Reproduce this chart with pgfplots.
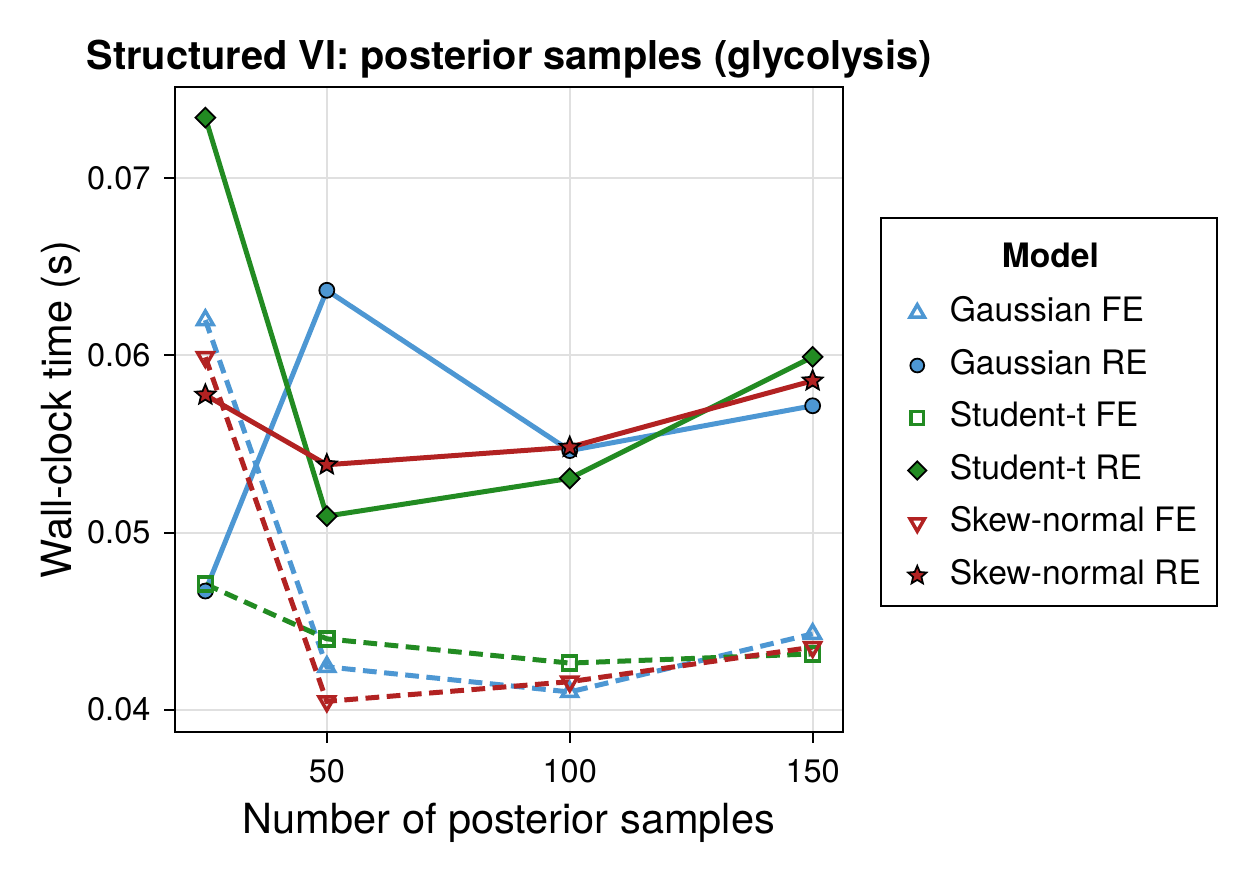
\documentclass[border=0pt]{standalone}
\usepackage{fontspec}
\setmainfont{TeX Gyre Heros}
\usepackage{pgfplots}
\pgfplotsset{compat=1.18}
\definecolor{cblue}{RGB}{77,151,211}
\definecolor{cgreen}{RGB}{34,139,34}
\definecolor{cred}{RGB}{178,34,34}
\pgfdeclareplotmark{fstar}{%
  \pgfpathmoveto{\pgfpointpolar{90}{\pgfplotmarksize}}%
  \pgfpathlineto{\pgfpointpolar{126}{0.45\pgfplotmarksize}}%
  \pgfpathlineto{\pgfpointpolar{162}{\pgfplotmarksize}}%
  \pgfpathlineto{\pgfpointpolar{198}{0.45\pgfplotmarksize}}%
  \pgfpathlineto{\pgfpointpolar{234}{\pgfplotmarksize}}%
  \pgfpathlineto{\pgfpointpolar{270}{0.45\pgfplotmarksize}}%
  \pgfpathlineto{\pgfpointpolar{306}{\pgfplotmarksize}}%
  \pgfpathlineto{\pgfpointpolar{342}{0.45\pgfplotmarksize}}%
  \pgfpathlineto{\pgfpointpolar{18}{\pgfplotmarksize}}%
  \pgfpathlineto{\pgfpointpolar{54}{0.45\pgfplotmarksize}}%
  \pgfpathclose\pgfusepathqfillstroke}
\begin{document}
\begin{tikzpicture}
\begin{axis}[
  at={(70pt,57.2pt)}, anchor=south west,
  scale only axis, width=267.2pt, height=258pt,
  xmin=18.75, xmax=156.25, ymin=0.03874, ymax=0.07516,
  xtick={50,100,150}, ytick={0.04,0.05,0.06,0.07},
  scaled y ticks=false,
  yticklabel style={/pgf/number format/.cd, fixed, fixed zerofill, precision=2, /tikz/.cd, xshift=-2pt},
  xticklabel style={yshift=-3pt},
  /pgf/number format/assume math mode=true,
  tick label style={font=\fontsize{13}{15}\selectfont},
  tick pos=left, tick align=outside, major tick length=4.3pt,
  tick style={black, line width=0.8pt},
  axis line style={line width=0.8pt},
  grid=major, major grid style={black!12, line width=0.8pt},
  title={\textbf{Structured VI: posterior samples (glycolysis)}},
  title style={at={(axis description cs:-0.1332,1.0031)}, anchor=base west, yshift=0pt, inner sep=0pt, font=\fontsize{15.9}{18}\selectfont},
  xlabel={Number of posterior samples},
  xlabel style={at={(axis description cs:0.5,-0.1581)}, anchor=base, inner sep=0pt, font=\fontsize{16.6}{19}\selectfont},
  ylabel={Wall-clock time (s)},
  ylabel style={at={(axis description cs:-0.1542,0.5)}, anchor=base, inner sep=0pt, font=\fontsize{16.6}{19}\selectfont},
  legend image code/.code={\path (-7pt,0pt) (7pt,0pt);\draw[#1, every mark/.append style={scale=0.92}] plot coordinates {(0pt,0pt)};},
  legend cell align=left,
  legend style={at={(1.0554,0.4961)}, anchor=west, draw=black, line width=0.8pt, fill=white,
    font=\fontsize{13.45}{16}\selectfont,
    nodes={inner sep=0pt, text height=10pt, text depth=3pt},
    row sep=8pt, column sep=5pt, inner xsep=6.5pt, inner ysep=5.6pt},
]
\addlegendimage{legend image code/.code={\path (0pt,-7pt) (0pt,10pt);}}
\addlegendentry{\hspace*{20.8pt}\textbf{Model}}
\addplot[cblue, line width=2pt, dash pattern=on 5.5pt off 3pt, mark=triangle, mark size=3.6pt, mark options={solid, line width=1.4pt, fill=white, draw=cblue}]
  coordinates {(25,0.0620)(50,0.04242)(100,0.0410)(150,0.04428)};
\addlegendentry{Gaussian FE}
\addplot[cblue, line width=2pt, mark=*, mark size=3pt, mark options={solid, line width=0.7pt, fill=cblue, draw=black}]
  coordinates {(25,0.0467)(50,0.06368)(100,0.05463)(150,0.05716)};
\addlegendentry{Gaussian RE}
\addplot[cgreen, line width=2pt, dash pattern=on 5.5pt off 3pt, mark=square, mark size=2.8pt, mark options={solid, line width=1.4pt, fill=white, draw=cgreen}]
  coordinates {(25,0.04709)(50,0.0440)(100,0.04263)(150,0.04315)};
\addlegendentry{Student-t FE}
\addplot[cgreen, line width=2pt, mark=square*, mark size=2.8pt, mark options={solid, rotate=45, line width=0.7pt, fill=cgreen, draw=black}]
  coordinates {(25,0.07343)(50,0.05093)(100,0.05306)(150,0.05992)};
\addlegendentry{Student-t RE}
\addplot[cred, line width=2pt, dash pattern=on 5.5pt off 3pt, mark=triangle, mark size=3.6pt, mark options={solid, rotate=180, line width=1.4pt, fill=white, draw=cred}]
  coordinates {(25,0.0599)(50,0.04047)(100,0.04158)(150,0.04353)};
\addlegendentry{Skew-normal FE}
\addplot[cred, line width=2pt, mark=fstar, mark size=4.2pt, mark options={solid, line width=0.7pt, fill=cred, draw=black}]
  coordinates {(25,0.05777)(50,0.05383)(100,0.05482)(150,0.05857)};
\addlegendentry{Skew-normal RE}
\end{axis}
\pgfresetboundingbox
\path[use as bounding box] (0,0) rectangle (500pt,350pt);
\end{tikzpicture}
\end{document}
